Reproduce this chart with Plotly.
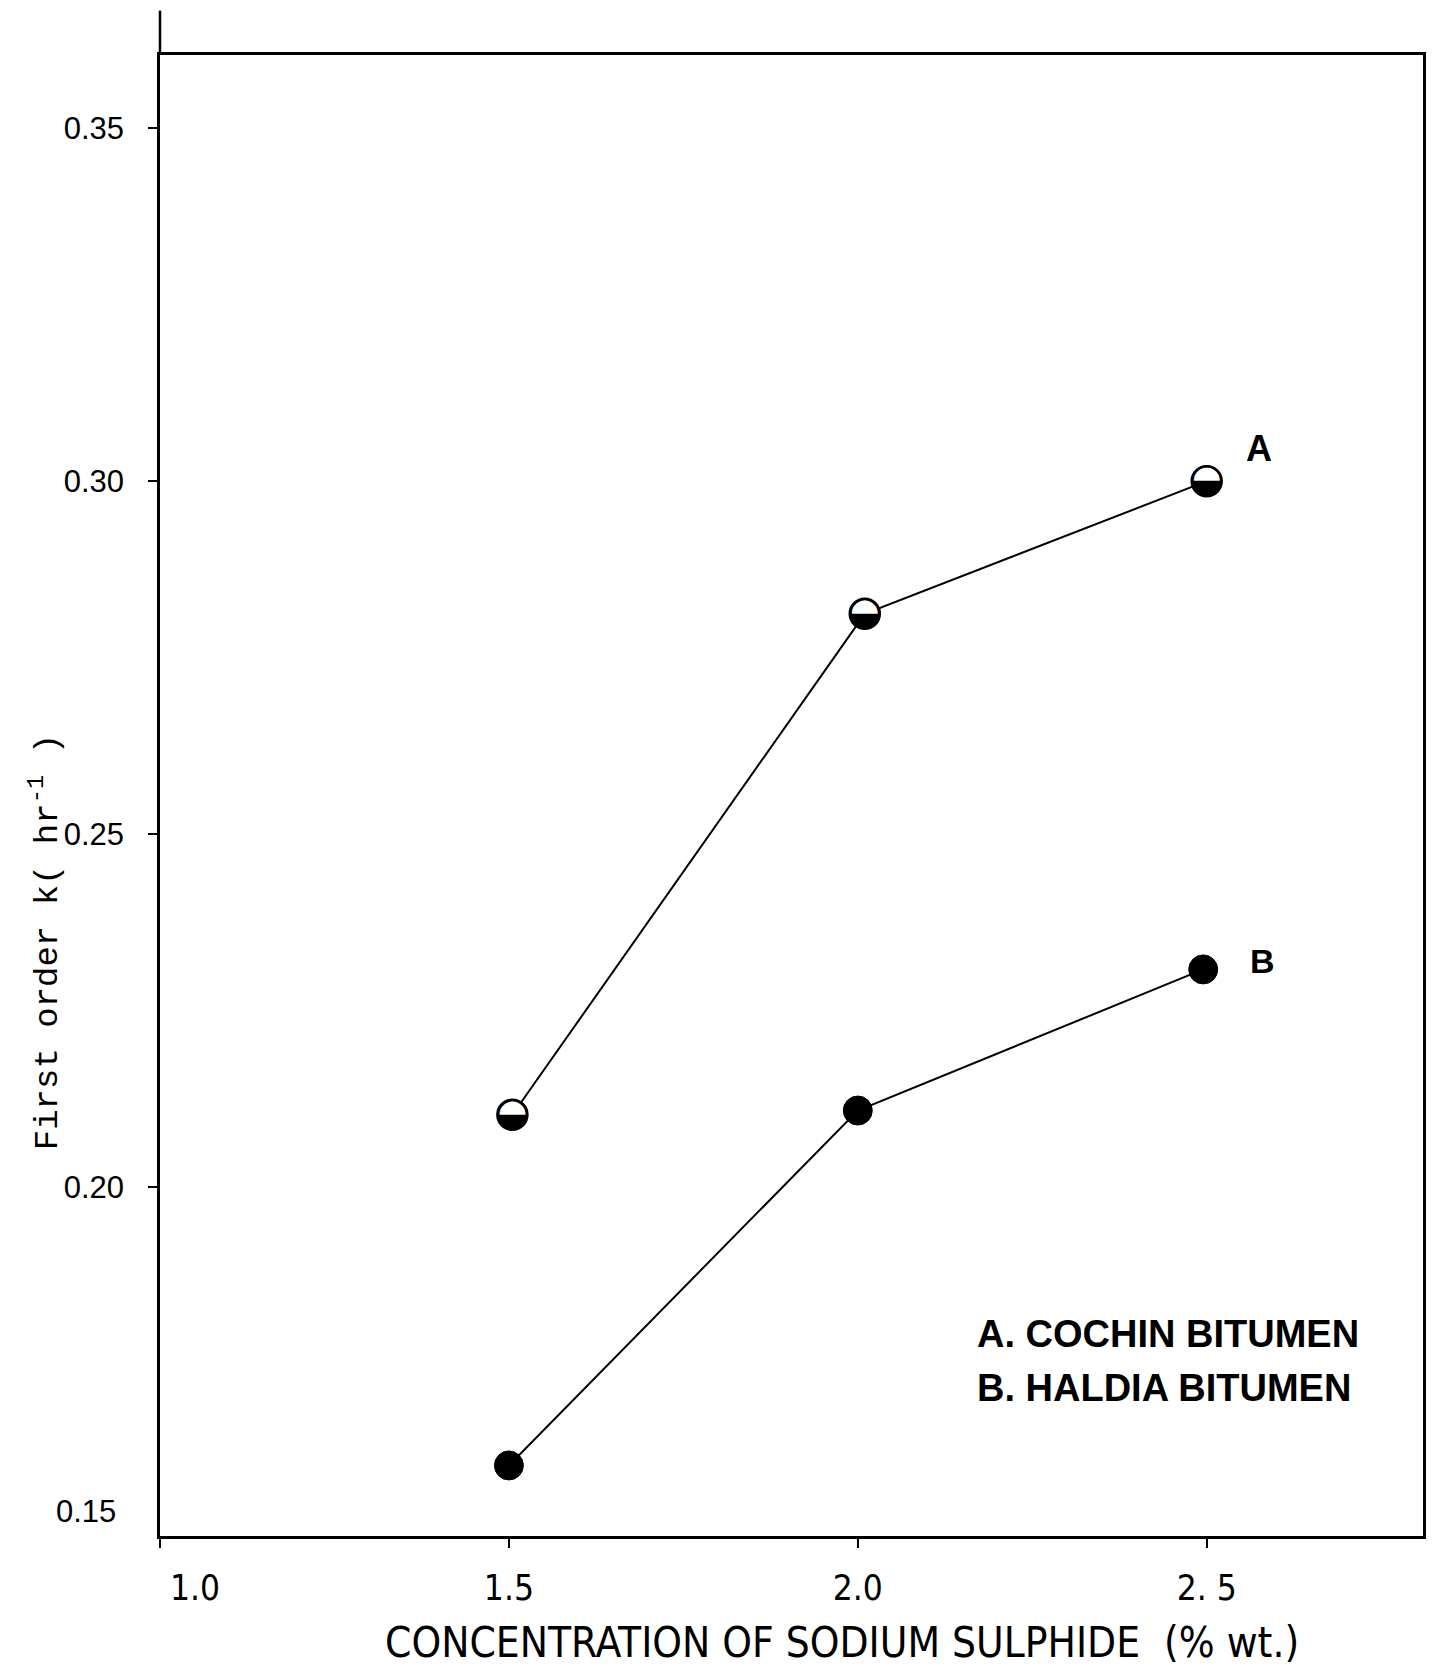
import plotly.graph_objects as go

# Data
conc_a = [1.505, 2.01, 2.5]
k_a = [0.2102, 0.2812, 0.300]
conc_b = [1.5, 2.0, 2.495]
k_b = [0.1605, 0.2108, 0.2308]

x_tickvals = [1.0, 1.5, 2.0, 2.5]
x_ticktext = ["\u00a0\u00a0\u00a0\u00a0\u00a0\u00a0\u00a01.0", "1.5", "2.0", "2. 5"]
y_tickvals = [0.15, 0.20, 0.25, 0.30, 0.35]
y_ticktext = ["0.15", "0.20", "0.25", "0.30", "0.35"]

series_labels = ["A", "B"]
legend_lines = ["A. COCHIN BITUMEN", "B. HALDIA BITUMEN"]

fig = go.Figure()

# Series A: line + half-filled circles
fig.add_trace(go.Scatter(
    x=conc_a, y=k_a, mode="lines+markers",
    line=dict(color="black", width=2),
    marker=dict(symbol="circle", size=30, color="white",
                line=dict(color="black", width=2.5)),
    showlegend=False, hoverinfo="skip"))
fig.add_trace(go.Scatter(
    x=conc_a, y=k_a, mode="text",
    text=["\u25D2"] * len(conc_a),
    textposition="middle center",
    textfont=dict(family="DejaVu Sans", size=40, color="black"),
    showlegend=False, hoverinfo="skip"))

# Series B: line + filled circles
fig.add_trace(go.Scatter(
    x=conc_b, y=k_b, mode="lines+markers",
    line=dict(color="black", width=2),
    marker=dict(symbol="circle", size=29, color="black",
                line=dict(color="black", width=1)),
    showlegend=False, hoverinfo="skip"))

annotations = []
# Series labels next to last points
annotations.append(dict(x=conc_a[-1], y=k_a[-1], xref="x", yref="y",
                        text="<b>" + series_labels[0] + "</b>", showarrow=False,
                        xshift=52, yshift=33,
                        font=dict(family="Liberation Sans", size=36, color="black")))
annotations.append(dict(x=conc_b[-1], y=k_b[-1], xref="x", yref="y",
                        text="<b>" + series_labels[1] + "</b>", showarrow=False,
                        xshift=59, yshift=8,
                        font=dict(family="Liberation Sans", size=34, color="black")))
# Legend text
for i, t in enumerate(legend_lines):
    annotations.append(dict(x=0.645, y=0.1364 - i * 0.0365, xref="paper", yref="paper",
                            text="<b>" + t + "</b>", showarrow=False,
                            xanchor="left", yanchor="middle",
                            font=dict(family="Liberation Sans", size=38, color="black")))
# Lowest y tick label (drawn just above the bottom axis, as in the reference)
annotations.append(dict(x=-0.0585, y=0, xref="paper", yref="paper",
                        text=y_ticktext[0], showarrow=False,
                        xanchor="center", yanchor="middle", yshift=25,
                        font=dict(family="Liberation Sans", size=31, color="black")))
# Axis titles
annotations.append(dict(x=-0.091, y=0.401, xref="paper", yref="paper",
                        text="First order k( hr<sup>-1</sup> )", textangle=-90,
                        showarrow=False, xanchor="center", yanchor="middle",
                        font=dict(family="Liberation Mono", size=34, color="black")))
annotations.append(dict(x=0.540, y=-0.072, xref="paper", yref="paper",
                        text="CONCENTRATION OF SODIUM SULPHIDE  (% wt.)",
                        showarrow=False, xanchor="center", yanchor="middle",
                        font=dict(family="DejaVu Sans Condensed, Liberation Sans", size=42,
                                  color="black")))

fig.update_layout(
    width=1438, height=1669,
    margin=dict(l=160, r=12, t=55, b=133),
    paper_bgcolor="white", plot_bgcolor="white",
    annotations=annotations,
    shapes=[dict(type="line", xref="paper", yref="paper", x0=0, x1=0, y0=1, y1=1.03,
                 line=dict(color="black", width=2.5))],
)

fig.update_xaxes(
    range=[1.0, 2.81], tickvals=x_tickvals, ticktext=x_ticktext,
    showgrid=False, zeroline=False,
    showline=True, linecolor="black", linewidth=2.5, mirror=True,
    ticks="outside", ticklen=9, tickwidth=2, tickcolor="black",
    ticklabelstandoff=10,
    tickfont=dict(family="DejaVu Sans Condensed, Liberation Sans", size=35, color="black"))
fig.update_yaxes(
    range=[0.1505, 0.3604], tickvals=y_tickvals, ticktext=y_ticktext,
    showgrid=False, zeroline=False,
    showline=True, linecolor="black", linewidth=2.5, mirror=True,
    ticks="outside", ticklen=9, tickwidth=2, tickcolor="black",
    ticklabelstandoff=18,
    tickfont=dict(family="Liberation Sans", size=31, color="black"))

fig.write_html("out.html")
